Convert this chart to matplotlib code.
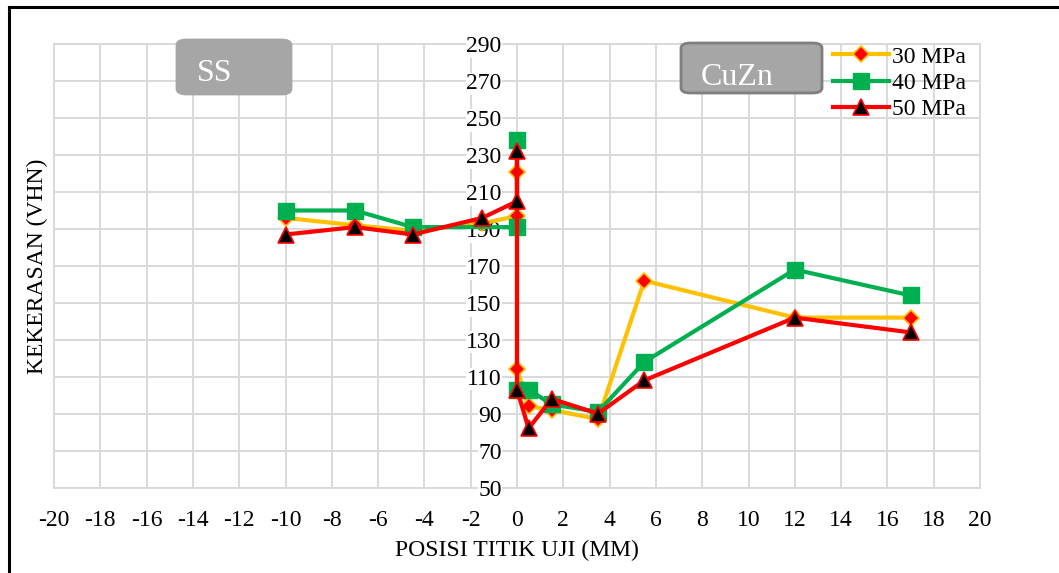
import matplotlib
matplotlib.use("Agg")
import matplotlib.pyplot as plt
from matplotlib.patches import FancyBboxPatch
from matplotlib.lines import Line2D

# Test positions (mm from the weld interface) and hardness readings (VHN)
pos_30 = [-10, -7, -4.5, -1.5, 0, 0, 0, 0.5, 1.5, 3.5, 5.5, 12, 17]
hv_30 = [196, 192, 189, 193, 197, 221, 114, 94, 92, 87, 162, 142, 142]

pos_40 = [-10, -7, -4.5, 0, 0, 0, 0.5, 1.5, 3.5, 5.5, 12, 17]
hv_40 = [200, 200, 191, 191, 238, 103, 103, 95, 91, 118, 168, 154]

pos_50 = [-10, -7, -4.5, -1.5, 0, 0, 0, 0.5, 1.5, 3.5, 5.5, 12, 17]
hv_50 = [187, 191, 187, 196, 205, 232, 103, 82, 98, 90, 108, 142, 134]

series_labels = ["30 MPa", "40 MPa", "50 MPa"]
x_ticks = list(range(-20, 21, 2))
y_ticks = list(range(50, 291, 20))

plt.rcParams["font.family"] = ["Liberation Serif", "DejaVu Serif"]
plt.rcParams["axes.unicode_minus"] = False

W, H = 1059, 573
fig = plt.figure(figsize=(W / 100, H / 100), dpi=100)
ax = fig.add_axes([54 / W, 1 - 487.5 / H, (980 - 54) / W, (487.5 - 44.3) / H])

grid_c = "#d9d9d9"
ax.set_xlim(-20, 20)
ax.set_ylim(50, 290)
ax.set_xticks(x_ticks)
ax.set_yticks(y_ticks)
ax.grid(True, color=grid_c, lw=1.4, zorder=0)
ax.set_axisbelow(True)

for side in ["top", "right", "bottom"]:
    ax.spines[side].set_color(grid_c)
    ax.spines[side].set_linewidth(1.4)
    ax.spines[side].set_zorder(0.3)
ax.spines["left"].set_position(("data", 0))
ax.spines["left"].set_visible(False)
ax.plot([-20, -20], [50, 290], color=grid_c, lw=1.4, zorder=0.3, clip_on=False)

ax.tick_params(axis="both", length=0, labelsize=17, colors="black")
ax.tick_params(axis="x", pad=16)
ax.tick_params(axis="y", pad=11)
# value labels sit on the x = 0 line and hide the gridlines behind them
for lbl in ax.get_yticklabels():
    lbl.set_bbox(dict(fc="white", ec="none", pad=0.5))

ax.plot(pos_30, hv_30, color="#FFC000", lw=3, marker="D", ms=8,
        mfc="#FF0000", mec="#FFC000", mew=1.2, label=series_labels[0], zorder=3)
ax.plot(pos_40, hv_40, color="#00B050", lw=3, marker="s", ms=11,
        mfc="#00B050", mec="#00B050", label=series_labels[1], zorder=4)
ax.plot(pos_50, hv_50, color="#FF0000", lw=3, marker="^", ms=11,
        mfc="black", mec="#FF0000", mew=1.2, label=series_labels[2], zorder=5)

ax.set_xlabel("POSISI TITIK UJI (MM)", fontsize=17)
ax.xaxis.set_label_coords(0.5, (487.5 - 550) / (487.5 - 44.3), transform=ax.transAxes)
ax.xaxis.label.set_va("center")
ax.set_ylabel("KEKERASAN (VHN)", fontsize=17)
ax.yaxis.set_label_coords((37 - 54) / (980 - 54), 0.5)
ax.yaxis.label.set_va("center")

leg = ax.legend(loc="upper left", bbox_to_anchor=((824 - 54) / (980 - 54), 1.017),
                frameon=False, fontsize=17, handlelength=2.35, handletextpad=0.15,
                labelspacing=0.2, borderaxespad=0)

# Material labels on either side of the interface
def tag(x0, x1, y0, y1, base, text, edge):
    box = FancyBboxPatch((x0 / W, 1 - y1 / H), (x1 - x0) / W, (y1 - y0) / H,
                         boxstyle="round,pad=0,rounding_size=0.009",
                         transform=fig.transFigure, fc="#A6A6A6", ec=edge,
                         lw=2, zorder=6)
    fig.patches.append(box)
    fig.text((x0 + 20) / W, 1 - base / H, text, color="white",
             fontsize=23, ha="left", va="baseline", zorder=7)

tag(177, 291, 40, 94, 81, "SS", "#A6A6A6")
tag(681, 822, 43, 93, 85, "CuZn", "#7F7F7F")

# Outer frame (left and top edges)
fig.add_artist(Line2D([8.5 / W, 8.5 / W], [0, 1 - 7 / H], color="black", lw=2.2,
                      transform=fig.transFigure))
fig.add_artist(Line2D([8.5 / W, 1], [1 - 7 / H, 1 - 7 / H], color="black", lw=2.2,
                      transform=fig.transFigure))

fig.savefig("out.png", dpi=100)
